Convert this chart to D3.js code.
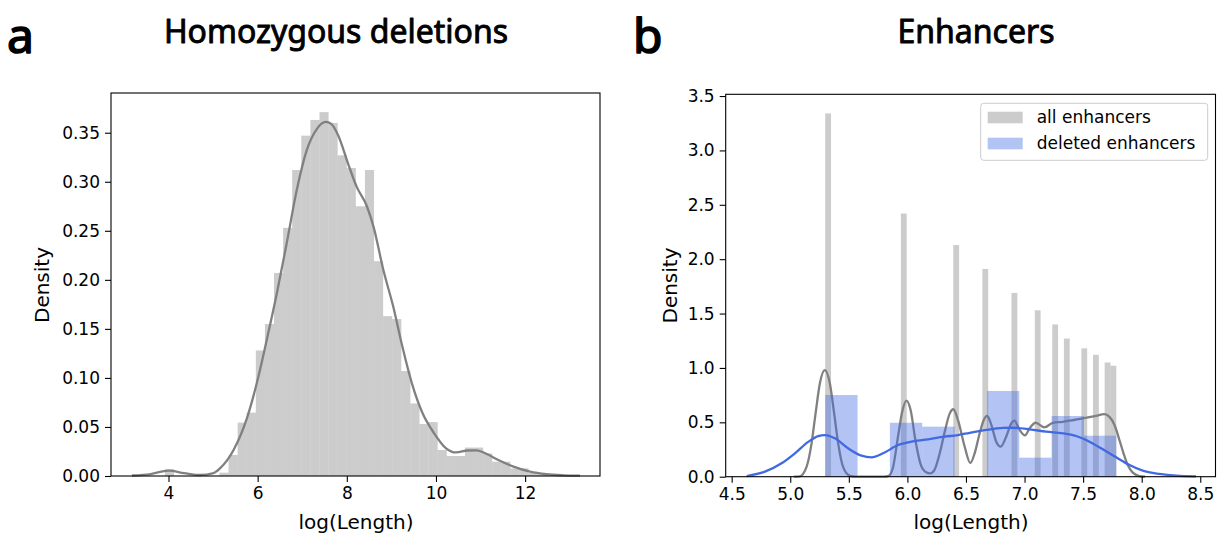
<!DOCTYPE html>
<html>
<head>
<meta charset="utf-8">
<script src="https://cdn.jsdelivr.net/npm/d3@7"></script>
<style>
  body { margin: 0; background: #fff; }
  svg text { font-family: "DejaVu Sans", sans-serif; fill: #000; }
</style>
</head>
<body>
<script>
// ---- panel a: homozygous deletions, log(length) histogram (density) ----
var homRange = [3.919, 12.487];
var homDensity = [0.007, 0, 0, 0, 0, 0, 0.0034, 0.0214, 0.0544, 0.0646,
    0.128, 0.155, 0.207, 0.253, 0.312, 0.347, 0.363, 0.371, 0.360, 0.327,
    0.314, 0.275, 0.312, 0.219, 0.163, 0.160, 0.107, 0.074, 0.053, 0.055,
    0.0265, 0.0204, 0.0204, 0.029, 0.029, 0.023, 0.0146, 0.0146, 0.0078, 0.0078,
    0.003, 0.002];
var homKde = [[3.18, 0.0005], [3.6, 0.002], [4.0, 0.0054], [4.35, 0.003], [4.71, 0.001],
    [5.01, 0.003], [5.16, 0.008], [5.46, 0.0265], [5.76, 0.059], [5.98, 0.0945],
    [6.21, 0.140], [6.43, 0.186], [6.65, 0.237], [6.88, 0.292], [7.10, 0.332],
    [7.33, 0.354], [7.53, 0.361], [7.65, 0.359], [7.80, 0.348], [8.04, 0.317],
    [8.22, 0.295], [8.45, 0.275], [8.60, 0.254], [8.82, 0.210], [9.04, 0.173],
    [9.23, 0.135], [9.46, 0.0945], [9.70, 0.064], [9.96, 0.0435], [10.22, 0.0285],
    [10.45, 0.024], [10.71, 0.026], [10.91, 0.0262], [11.14, 0.0224], [11.40, 0.0163],
    [11.74, 0.0095], [12.11, 0.0044], [12.48, 0.0018], [12.86, 0.0007], [13.23, 0.0003]];
var homXTicks = [4, 6, 8, 10, 12];
var homYTicks = [0, 0.05, 0.10, 0.15, 0.20, 0.25, 0.30, 0.35];

// ---- panel b: enhancers ----
var enhLengths = [200, 400, 600, 800, 1000, 1200, 1400, 1600, 1800, 2000, 2200, 2400];
var allEnhDensity = [3.34, 2.42, 2.13, 1.91, 1.69, 1.53, 1.40, 1.27, 1.18, 1.12, 1.05, 1.02];
var delEnhDensity = [0.751, 0, 0.496, 0.46, 0, 0.788, 0.175, 0.558, 0.377];
var allEnhKde = [[5.03, 0], [5.082, 0.004], [5.139, 0.09], [5.182, 0.307], [5.216, 0.58],
    [5.253, 0.86], [5.295, 0.98], [5.338, 0.86], [5.375, 0.58], [5.409, 0.307],
    [5.451, 0.09], [5.509, 0.008], [5.56, 0], [5.80, 0], [5.84, 0.008], [5.878, 0.09],
    [5.92, 0.37], [5.958, 0.61], [5.992, 0.70], [6.028, 0.61], [6.068, 0.337],
    [6.114, 0.11], [6.16, 0.04], [6.195, 0.03], [6.23, 0.06], [6.276, 0.215],
    [6.318, 0.41], [6.361, 0.58], [6.392, 0.62], [6.432, 0.52], [6.489, 0.275],
    [6.537, 0.126], [6.574, 0.215], [6.617, 0.40], [6.651, 0.52], [6.68, 0.558],
    [6.717, 0.475], [6.759, 0.32], [6.797, 0.277], [6.844, 0.37], [6.887, 0.49],
    [6.913, 0.515], [6.958, 0.43], [7.003, 0.38], [7.043, 0.445], [7.095, 0.496],
    [7.171, 0.454], [7.242, 0.496], [7.327, 0.505], [7.384, 0.515], [7.497, 0.537],
    [7.611, 0.56], [7.68, 0.575], [7.725, 0.55], [7.768, 0.475], [7.81, 0.337],
    [7.845, 0.215], [7.881, 0.107], [7.924, 0.037], [7.98, 0.006], [8.03, 0]];
var delEnhKde = [[4.628, 0.006], [4.784, 0.046], [4.926, 0.123], [5.04, 0.215],
    [5.153, 0.32], [5.238, 0.374], [5.295, 0.383], [5.381, 0.353], [5.494, 0.261],
    [5.608, 0.193], [5.694, 0.178], [5.792, 0.215], [5.92, 0.291], [6.035, 0.322],
    [6.176, 0.344], [6.318, 0.368], [6.432, 0.383], [6.532, 0.404], [6.674, 0.43],
    [6.815, 0.448], [6.9, 0.45], [7.043, 0.436], [7.185, 0.414], [7.327, 0.399],
    [7.44, 0.374], [7.554, 0.322], [7.668, 0.252], [7.782, 0.178], [7.896, 0.107],
    [8.009, 0.055], [8.151, 0.025], [8.294, 0.009], [8.464, 0.003]];
var enhXTicks = [4.5, 5.0, 5.5, 6.0, 6.5, 7.0, 7.5, 8.0, 8.5];
var enhYTicks = [0, 0.5, 1.0, 1.5, 2.0, 2.5, 3.0, 3.5];
var legendLabels = ['all enhancers', 'deleted enhancers'];

var svg = d3.select('body').append('svg')
    .attr('width', 1217)
    .attr('height', 535);

function drawFrame(x, y, xTicks, yTicks, xFmt, yFmt) {
    var g = svg.append('g');
    g.append('g')
        .attr('transform', `translate(0,${y.range()[0]})`)
        .call(d3.axisBottom(x).tickValues(xTicks).tickFormat(d3.format(xFmt))
            .tickSize(6).tickSizeOuter(0).tickPadding(5))
        .call(s => s.select('.domain').remove());
    g.append('g')
        .attr('transform', `translate(${x.range()[0]},0)`)
        .call(d3.axisLeft(y).tickValues(yTicks).tickFormat(d3.format(yFmt))
            .tickSize(6).tickSizeOuter(0).tickPadding(5))
        .call(s => s.select('.domain').remove());
    g.selectAll('.tick line').attr('stroke', '#000').attr('stroke-width', 1.1);
    g.selectAll('.tick text')
        .style('font-family', '"DejaVu Sans", sans-serif')
        .style('font-size', '17px')
        .attr('fill', '#000');
    return g;
}

function drawSpines(x, y) {
    svg.append('rect')
        .attr('x', x.range()[0])
        .attr('y', y.range()[1])
        .attr('width', x.range()[1] - x.range()[0])
        .attr('height', y.range()[0] - y.range()[1])
        .attr('fill', 'none')
        .attr('stroke', '#000')
        .attr('stroke-width', 1.1);
}

function kdeLine(x, y) {
    return d3.line()
        .x(d => x(d[0]))
        .y(d => y(d[1]))
        .curve(d3.curveMonotoneX);
}

// ---------- panel a ----------
var xA = d3.scaleLinear().domain([2.71, 13.68]).range([111, 600]);
var yA = d3.scaleLinear().domain([0, 0.3905]).range([476, 93]);
var homW = (homRange[1] - homRange[0]) / homDensity.length;

svg.append('g').selectAll('rect')
    .data(homDensity)
    .enter()
        .append('rect')
        .attr('x', (d, i) => xA(homRange[0] + i * homW))
        .attr('width', xA(homRange[0] + homW) - xA(homRange[0]))
        .attr('y', d => yA(d))
        .attr('height', d => yA(0) - yA(d))
        .attr('fill', 'gray')
        .attr('fill-opacity', 0.4);

svg.append('path')
    .datum(homKde)
    .attr('d', kdeLine(xA, yA))
    .attr('fill', 'none')
    .attr('stroke', 'gray')
    .attr('stroke-width', 2.3);

drawFrame(xA, yA, homXTicks, homYTicks, 'd', '.2f');
drawSpines(xA, yA);

// ---------- panel b ----------
var xB = d3.scaleLinear().domain([4.449, 8.63]).range([725.7, 1215.5]);
var yB = d3.scaleLinear().domain([0, 3.516]).range([476.7, 94.3]);
var logMin = Math.log(d3.min(enhLengths));
var logMax = Math.log(d3.max(enhLengths));
var allW = (logMax - logMin) / 50;
var delW = (logMax - logMin) / delEnhDensity.length;

var allBars = enhLengths.map((L, i) => {
    var k = Math.min(49, Math.floor((Math.log(L) - logMin) / allW + 1e-9));
    return { x0: logMin + k * allW, v: allEnhDensity[i] };
});

svg.append('g').selectAll('rect')
    .data(allBars)
    .enter()
        .append('rect')
        .attr('x', d => xB(d.x0))
        .attr('width', xB(logMin + allW) - xB(logMin))
        .attr('y', d => yB(d.v))
        .attr('height', d => yB(0) - yB(d.v))
        .attr('fill', 'gray')
        .attr('fill-opacity', 0.4);

svg.append('path')
    .datum(allEnhKde)
    .attr('d', kdeLine(xB, yB))
    .attr('fill', 'none')
    .attr('stroke', 'gray')
    .attr('stroke-width', 2.3);

svg.append('g').selectAll('rect')
    .data(delEnhDensity)
    .enter()
        .append('rect')
        .attr('x', (d, i) => xB(logMin + i * delW))
        .attr('width', xB(logMin + delW) - xB(logMin))
        .attr('y', d => yB(d))
        .attr('height', d => yB(0) - yB(d))
        .attr('fill', 'royalblue')
        .attr('fill-opacity', 0.4);

svg.append('path')
    .datum(delEnhKde)
    .attr('d', kdeLine(xB, yB))
    .attr('fill', 'none')
    .attr('stroke', 'royalblue')
    .attr('stroke-width', 2.3);

drawFrame(xB, yB, enhXTicks, enhYTicks, '.1f', '.1f');
drawSpines(xB, yB);

// legend
var legend = svg.append('g').attr('transform', 'translate(980.7,103.3)');
legend.append('rect')
    .attr('width', 227)
    .attr('height', 57)
    .attr('rx', 3)
    .attr('fill', '#fff')
    .attr('fill-opacity', 0.8)
    .attr('stroke', '#cccccc');
var legendColors = ['gray', 'royalblue'];
legendLabels.forEach((t, i) => {
    legend.append('rect')
        .attr('x', 7)
        .attr('y', 8.4 + i * 26)
        .attr('width', 35)
        .attr('height', 11.6)
        .attr('fill', legendColors[i])
        .attr('fill-opacity', 0.4);
    legend.append('text')
        .attr('x', 56)
        .attr('y', 14.2 + i * 26)
        .attr('dy', '0.35em')
        .style('font-size', '17px')
        .text(t);
});

// axis labels
function axisLabels(cx) {
    svg.append('text')
        .attr('x', cx)
        .attr('y', 529)
        .attr('text-anchor', 'middle')
        .style('font-size', '20px')
        .text('log(Length)');
}
axisLabels(356);
axisLabels(971);

svg.append('text')
    .attr('transform', 'translate(49,285) rotate(-90)')
    .attr('text-anchor', 'middle')
    .style('font-size', '20px')
    .text('Density');
svg.append('text')
    .attr('transform', 'translate(677,285.5) rotate(-90)')
    .attr('text-anchor', 'middle')
    .style('font-size', '20px')
    .text('Density');

// titles and panel letters (regular face thickened with a thin stroke)
function heading(x, y, size, anchor, weight, t) {
    svg.append('text')
        .attr('x', x)
        .attr('y', y)
        .attr('text-anchor', anchor)
        .style('font-family', '"Noto Sans", sans-serif')
        .style('font-size', size + 'px')
        .attr('stroke', '#000')
        .attr('stroke-width', weight)
        .attr('stroke-linejoin', 'round')
        .text(t);
}
heading(336, 43, 32, 'middle', 0.9, 'Homozygous deletions');
heading(976, 43, 32, 'middle', 0.9, 'Enhancers');
heading(7, 53, 48, 'start', 1.6, 'a');
heading(633, 53, 48, 'start', 1.6, 'b');
</script>
</body>
</html>
